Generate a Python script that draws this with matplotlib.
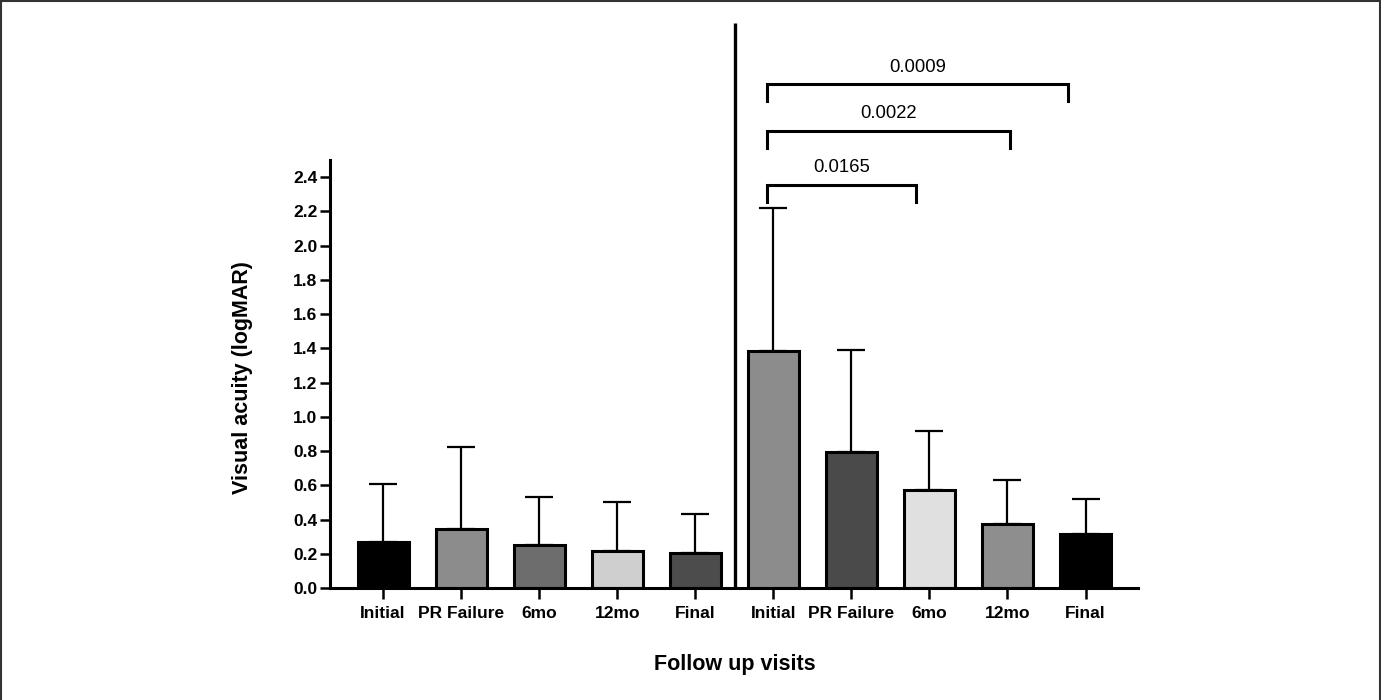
import matplotlib
matplotlib.use('Agg')
import matplotlib.pyplot as plt
from matplotlib.lines import Line2D
import numpy as np

# 数据
visit_labels = ['Initial', 'PR Failure', '6mo', '12mo', 'Final']
group1_mean = [0.27, 0.345, 0.25, 0.217, 0.206]
group1_top = [0.61, 0.827, 0.535, 0.503, 0.431]
group2_mean = [1.385, 0.795, 0.572, 0.378, 0.315]
group2_top = [2.22, 1.39, 0.92, 0.635, 0.524]
group1_colors = ['#000000', '#8c8c8c', '#6d6d6d', '#cfcfcf', '#4c4c4c']
group2_colors = ['#8c8c8c', '#4a4a4a', '#e0e0e0', '#8e8e8e', '#000000']

# 显著性标注 (起点, 终点, 高度, p值)
brackets = [(4.92, 6.83, 2.357, '0.0165'),
            (4.92, 8.03, 2.672, '0.0022'),
            (4.92, 8.78, 2.943, '0.0009')]

plt.rcParams['font.family'] = ['Liberation Sans', 'DejaVu Sans']

fig = plt.figure(figsize=(13.81, 7.0), dpi=100)
ax = fig.add_axes([0.2390, 0.1596, 0.5849, 0.6118])

means = group1_mean + group2_mean
tops = group1_top + group2_top
colors = group1_colors + group2_colors
x = np.arange(len(means))
err_up = np.array(tops) - np.array(means)

ax.errorbar(x, means, yerr=[np.zeros(len(means)), err_up], fmt='none',
            ecolor='black', elinewidth=1.6, capsize=10, capthick=1.6, zorder=1)
ax.bar(x, means, width=0.654, color=colors, edgecolor='black', linewidth=2.2, zorder=2)

# 分隔线
ax.plot([4.51, 4.51], [0, 3.30], color='black', lw=2.4, clip_on=False,
        solid_capstyle='butt')

# 显著性括号
for x0, x1, y, label in brackets:
    ax.plot([x0, x0, x1, x1], [y - 0.1, y, y, y - 0.1], color='black', lw=2.2,
            clip_on=False, solid_joinstyle='miter')
    ax.text((x0 + x1) / 2, y + 0.1, label, ha='center', va='center', fontsize=13.3)

ax.set_xlim(-0.679, 9.67)
ax.set_ylim(0, 2.5)
ax.set_yticks(np.arange(0, 2.41, 0.2))
ax.set_yticklabels(['%.1f' % v for v in np.arange(0, 2.41, 0.2)])
ax.set_xticks(x)
ax.set_xticklabels(visit_labels * 2)

for s in ['top', 'right']:
    ax.spines[s].set_visible(False)
for s in ['left', 'bottom']:
    ax.spines[s].set_linewidth(2.2)

ax.tick_params(axis='y', length=7, width=1.8, pad=2, labelsize=12.5)
ax.tick_params(axis='x', length=8, width=1.8, pad=5, labelsize=12.5)
for lab in ax.get_xticklabels() + ax.get_yticklabels():
    lab.set_fontweight('bold')

ax.set_ylabel('Visual acuity (logMAR)', fontsize=15.5, fontweight='bold')
ax.set_xlabel('Follow up visits', fontsize=15.5, fontweight='bold')
ax.yaxis.set_label_coords(-0.095, 0.493)
ax.xaxis.set_label_coords(0.501, -0.153)

# 外边框
for xs, ys in [([0.001, 0.001], [0, 0.998]), ([0.001, 0.999], [0.998, 0.998]),
               ([0.999, 0.999], [0.998, 0])]:
    fig.add_artist(Line2D(xs, ys, transform=fig.transFigure, color='#333333', lw=1.5))

plt.savefig('out.png', dpi=100)
